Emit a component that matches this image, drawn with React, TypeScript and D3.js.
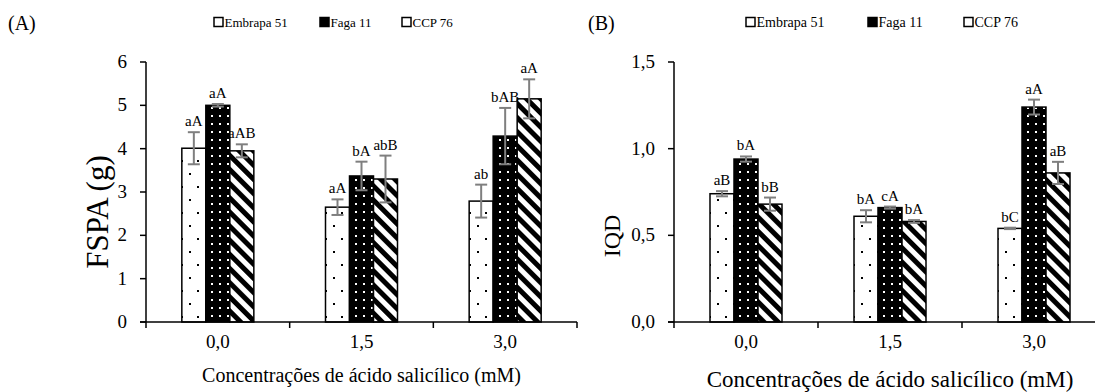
import React from "react";
import { scaleBand, scaleLinear } from "d3";

// dados
const categories = ["0,0", "1,5", "3,0"];
const cultivars = ["Embrapa 51", "Faga 11", "CCP 76"];

const fspaEmbrapa = [4.01, 2.65, 2.79];
const fspaFaga = [5.0, 3.37, 4.29];
const fspaCcp = [3.95, 3.3, 5.15];
const fspaEmbrapaErr = [0.37, 0.18, 0.38];
const fspaFagaErr = [0.03, 0.33, 0.65];
const fspaCcpErr = [0.15, 0.54, 0.45];
const fspaEmbrapaLetters = ["aA", "aA", "ab"];
const fspaFagaLetters = ["aA", "bA", "bAB"];
const fspaCcpLetters = ["aAB", "abB", "aA"];
const fspaTicks = [0, 1, 2, 3, 4, 5, 6];

const iqdEmbrapa = [0.74, 0.61, 0.54];
const iqdFaga = [0.94, 0.66, 1.24];
const iqdCcp = [0.68, 0.58, 0.86];
const iqdEmbrapaErr = [0.015, 0.035, 0.004];
const iqdFagaErr = [0.015, 0.006, 0.043];
const iqdCcpErr = [0.038, 0.008, 0.064];
const iqdEmbrapaLetters = ["aB", "bA", "bC"];
const iqdFagaLetters = ["bA", "cA", "aA"];
const iqdCcpLetters = ["bB", "bA", "aB"];
const iqdTicks = [0, 0.5, 1.0, 1.5];

const FONT = "Liberation Serif";
const fills = ["url(#dotsWhite)", "url(#dotsBlack)", "url(#stripes)"];
const legendFills = ["#fff", "#000", "#fff"];

function Panel({ tag, tagX, x0, x1, yMax, ticks, fmt, series, errors, letters,
    yTitle, yTitleX, yTitleY, yTitleSize, xTitleSize, xTitleY, legendX, legendSize }) {
    const top = 62, bottom = 322;

    //scales
    const xScale = scaleBand().domain(categories).range([x0, x1]);
    const inner = scaleBand().domain(cultivars).range([-36, 36]);
    const yScale = scaleLinear().domain([0, yMax]).range([bottom, top]);
    const bw = inner.bandwidth();
    const edges = [x0, ...categories.map(c => xScale(c) + xScale.bandwidth())];
    const barX = (si, ci) => xScale(categories[ci]) + xScale.bandwidth() / 2 + inner(cultivars[si]);

    return (
        <g>
            <text x={tagX} y={30} fontSize={20} fontFamily={FONT}>{tag}</text>

            {/* legenda */}
            {cultivars.map((c, i) => (
                <g key={c} transform={`translate(${legendX[i]},22)`}>
                    <rect x={0} y={-4.5} width={9} height={9} fill={legendFills[i]} stroke="#000" strokeWidth={1.5} />
                    <text x={10.5} y={5} fontSize={legendSize} fontFamily={FONT}>{c}</text>
                </g>
            ))}

            {/* barras */}
            {series.map((vals, si) => vals.map((v, ci) => (
                <rect key={`b${si}${ci}`} x={barX(si, ci)} y={yScale(v)} width={bw} height={bottom - yScale(v)}
                    fill={fills[si]} stroke="#000" strokeWidth={1.5} />
            )))}

            {/* barras de erro */}
            {series.map((vals, si) => vals.map((v, ci) => {
                const cx = barX(si, ci) + bw / 2;
                const e = errors[si][ci];
                const y1 = yScale(v + e), y2 = yScale(v - e);
                return (
                    <g key={`e${si}${ci}`} stroke="#7f7f7f" strokeWidth={2}>
                        <line x1={cx} x2={cx} y1={y1} y2={y2} />
                        <line x1={cx - 6} x2={cx + 6} y1={y1} y2={y1} />
                        <line x1={cx - 6} x2={cx + 6} y1={y2} y2={y2} />
                    </g>
                );
            }))}

            {/* letras */}
            {series.map((vals, si) => vals.map((v, ci) => (
                <text key={`l${si}${ci}`} x={barX(si, ci) + bw / 2} y={yScale(v + errors[si][ci]) - 6}
                    fontSize={15} fontFamily={FONT} textAnchor="middle">{letters[si][ci]}</text>
            )))}

            {/* eixo y */}
            <line x1={x0} x2={x0} y1={top} y2={bottom} stroke="#000" strokeWidth={1.5} />
            {ticks.map(t => (
                <g key={t}>
                    <line x1={x0 - 6} x2={x0} y1={yScale(t)} y2={yScale(t)} stroke="#000" strokeWidth={1.5} />
                    <text x={x0 - 19} y={yScale(t) + 6} fontSize={19} fontFamily={FONT} textAnchor="end">{fmt(t)}</text>
                </g>
            ))}

            {/* eixo x */}
            <line x1={x0 - 6} x2={x1} y1={bottom} y2={bottom} stroke="#000" strokeWidth={1.5} />
            {edges.map((e, i) => (
                <line key={i} x1={e} x2={e} y1={bottom} y2={bottom + 6} stroke="#000" strokeWidth={1.5} />
            ))}
            {categories.map(c => (
                <text key={c} x={xScale(c) + xScale.bandwidth() / 2} y={348} fontSize={19} fontFamily={FONT}
                    textAnchor="middle">{c}</text>
            ))}
            <text x={(x0 + xScale(categories[2]) + xScale.bandwidth()) / 2} y={xTitleY} fontSize={xTitleSize}
                fontFamily={FONT} textAnchor="middle">Concentrações de ácido salicílico (mM)</text>
            <text transform={`translate(${yTitleX},${yTitleY}) rotate(-90)`} fontSize={yTitleSize}
                fontFamily={FONT} textAnchor="middle">{yTitle}</text>
        </g>
    );
}

export default function App() {
    return (
        <svg width={1095} height={392} style={{ position: "absolute", left: 0, top: 0, background: "#fff" }}>
            <defs>
                <pattern id="dotsWhite" width={16} height={26} patternUnits="userSpaceOnUse">
                    <rect width={16} height={26} fill="#fff" />
                    <rect x={5} y={4} width={2} height={2} fill="#000" />
                    <rect x={13} y={17} width={2} height={2} fill="#000" />
                </pattern>
                <pattern id="dotsBlack" width={8} height={8} patternUnits="userSpaceOnUse">
                    <rect width={8} height={8} fill="#000" />
                    <rect x={3} y={3} width={2} height={2} fill="#fff" />
                </pattern>
                <pattern id="stripes" width={10} height={10} patternUnits="userSpaceOnUse" patternTransform="rotate(-45)">
                    <rect width={10} height={10} fill="#fff" />
                    <rect width={5} height={10} fill="#000" />
                </pattern>
            </defs>
            <Panel tag="(A)" tagX={8} x0={146} x1={577} yMax={6} ticks={fspaTicks} fmt={t => String(t)}
                series={[fspaEmbrapa, fspaFaga, fspaCcp]}
                errors={[fspaEmbrapaErr, fspaFagaErr, fspaCcpErr]}
                letters={[fspaEmbrapaLetters, fspaFagaLetters, fspaCcpLetters]}
                yTitle="FSPA (g)" yTitleX={108} yTitleY={212} yTitleSize={31} xTitleSize={20} xTitleY={382}
                legendX={[214, 320, 402]} legendSize={13} />
            <Panel tag="(B)" tagX={588} x0={674} x1={1106} yMax={1.5} ticks={iqdTicks}
                fmt={t => t.toFixed(1).replace(".", ",")}
                series={[iqdEmbrapa, iqdFaga, iqdCcp]}
                errors={[iqdEmbrapaErr, iqdFagaErr, iqdCcpErr]}
                letters={[iqdEmbrapaLetters, iqdFagaLetters, iqdCcpLetters]}
                yTitle="IQD" yTitleX={620} yTitleY={236} yTitleSize={24} xTitleSize={23} xTitleY={387}
                legendX={[746, 868, 964]} legendSize={14} />
        </svg>
    );
}
